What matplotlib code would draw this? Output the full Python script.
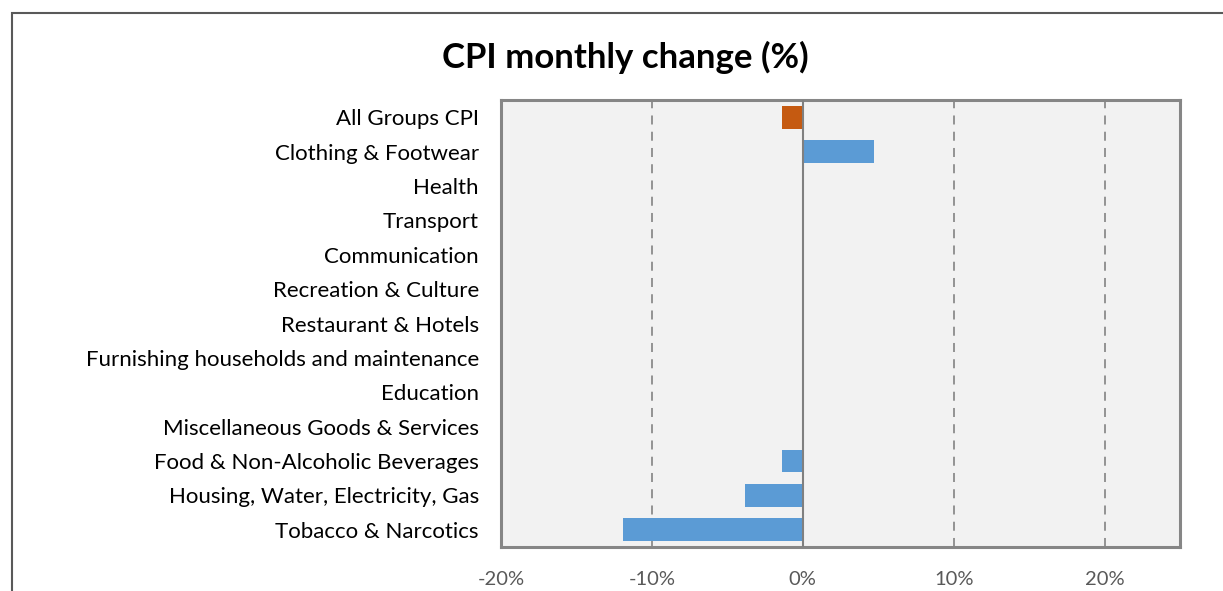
import matplotlib.pyplot as plt
from matplotlib.patches import Rectangle
from matplotlib.ticker import FuncFormatter

# categories top to bottom, monthly change in %
categories = [
    "All Groups CPI",
    "Clothing & Footwear",
    "Health",
    "Transport",
    "Communication",
    "Recreation & Culture",
    "Restaurant & Hotels",
    "Furnishing households and maintenance",
    "Education",
    "Miscellaneous Goods & Services",
    "Food & Non-Alcoholic Beverages",
    "Housing, Water, Electricity, Gas",
    "Tobacco & Narcotics",
]
changes = [-1.4, 4.7, 0, 0, 0, 0, 0, 0, 0, 0, -1.4, -3.8, -11.9]
bar_colors = ["#C55A11"] + ["#5B9BD5"] * 12
xticks = [-20, -10, 0, 10, 20]

plt.rcParams['font.family'] = ['Lato', 'DejaVu Sans']

fig = plt.figure(figsize=(12.23, 5.91), dpi=100)
ax = fig.add_axes([501 / 1223, 1 - 547 / 591, 679 / 1223, 447 / 591])

# outer chart border (cropped on right/bottom)
fig.patches.append(Rectangle((12 / 1223, -0.1), 1.2, 1 - 13 / 591 + 0.1,
                             transform=fig.transFigure, fill=False,
                             edgecolor="#595959", linewidth=1.5))

ypos = list(range(len(categories)))
ax.barh(ypos, changes, height=0.66, color=bar_colors, zorder=3)

ax.set_facecolor("#F2F2F2")
ax.set_xlim(-20, 25)
ax.set_ylim(len(categories) - 0.5, -0.5)
ax.set_yticks(ypos)
ax.set_yticklabels(categories, fontsize=16, color="#000000")
ax.set_xticks(xticks)
ax.xaxis.set_major_formatter(FuncFormatter(lambda v, p: f"{v:.0f}%"))
ax.tick_params(axis="x", labelsize=14.5, labelcolor="#595959", length=0, pad=17.5)
ax.tick_params(axis="y", length=0, pad=16)

for v in xticks[1:]:
    if v == 0:
        ax.axvline(v, color="#808080", linewidth=1.5, zorder=4)
    else:
        ax.axvline(v, color="#8C8C8C", linewidth=1.3, linestyle=(0, (5, 4)), zorder=2)

for s in ax.spines.values():
    s.set_color("#868686")
    s.set_linewidth(2.2)

fig.text(625 / 1223, 1 - 57 / 591, "CPI monthly change (%)", fontsize=25,
         fontweight="bold", ha="center", va="center")

fig.savefig("out.png", dpi=100)
